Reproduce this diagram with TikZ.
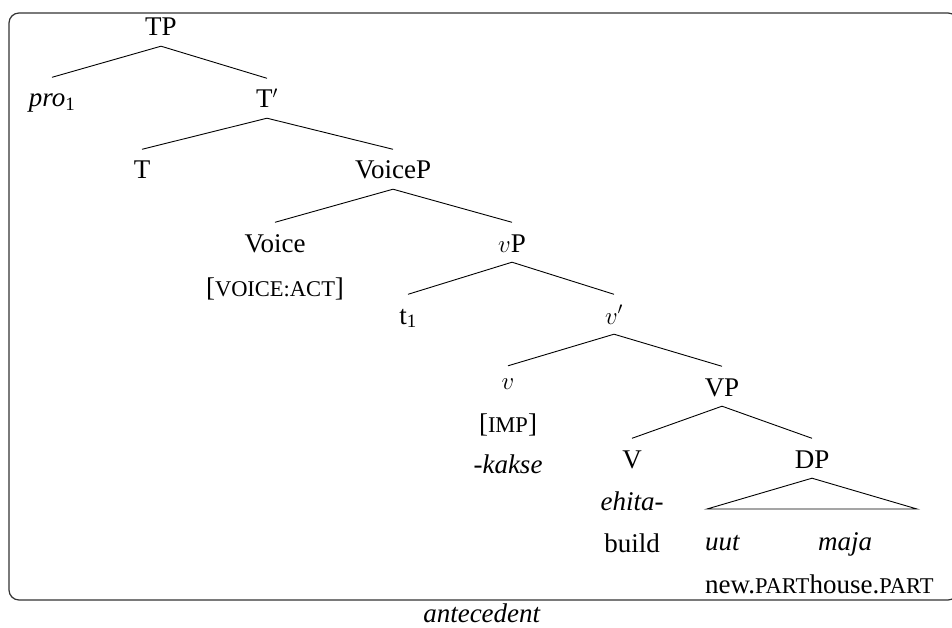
\documentclass[tikz,border=0pt]{standalone}
\usepackage{fontspec}
\setmainfont{Liberation Serif}
% small capitals drawn as reduced capitals
\newcommand\smcaps[1]{{\fontsize{22.5}{26}\selectfont #1}}
\begin{document}
\begin{tikzpicture}[x=1pt,y=-1pt,
  every node/.style={font=\fontsize{27}{32}\selectfont},
  tn/.style={anchor=base, inner sep=0pt, text height=29.5pt, text depth=10pt},
  lbl/.style={anchor=base, inner sep=0pt},
  br/.style={line width=0.9pt},
  frame/.style={line width=1.2pt, black!80, rounded corners=10pt}]
\useasboundingbox (0,0) rectangle (952,628);
\draw[frame] (9,13) rectangle (958,600);

% tree nodes
\node[tn] (tp) at (161,36) {TP};
\node[tn] (pro) at (52,107) {\textit{pro}\textsubscript{1}};
\node[tn] (tbar) at (267,108) {T$'$};
\node[tn] (thead) at (142,179) {T};
\node[tn] (voicep) at (393,179) {VoiceP};
\node[tn] (voice) at (275,252) {Voice};
\node[lbl] (voicefeat) at (275,296) {[\smcaps{VOICE:ACT}]};
\node[tn] (littlevp) at (512,252) {$v$P};
\node[tn] (trace) at (408,324) {t\textsubscript{1}};
\node[tn] (vbar) at (614,324) {$v'$};
\node[tn, text height=23pt] (vhead) at (508,389) {$v$};
\node[lbl] (imp) at (508,432) {[\smcaps{IMP}]};
\node[lbl] (kakse) at (508,473) {\textit{-kakse}};
\node[tn] (bigvp) at (722,396) {VP};
\node[tn] (verb) at (632,468) {V};
\node[lbl] (ehita) at (632,510) {\textit{ehita-}};
\node[lbl] (build) at (632,552) {build};
\node[tn] (dp) at (812,468) {DP};
\coordinate (roofl) at (707,509);
\coordinate (roofr) at (917,509);
\node[lbl, anchor=base west] (uut) at (705,550) {\textit{uut}};
\node[lbl, anchor=base west] (maja) at (818,550) {\textit{maja}};
\node[lbl, anchor=base west] (glnew) at (705,593) {new.\smcaps{PART}};
\node[lbl, anchor=base west] (glhouse) at (glnew.base east) {house.\smcaps{PART}};
\node[lbl] (caption) at (482,622) {\textit{antecedent}};

% branches
\draw[br] (tp.south) -- (pro.north);
\draw[br] (tp.south) -- (tbar.north);
\draw[br] (tbar.south) -- (thead.north);
\draw[br] (tbar.south) -- (voicep.north);
\draw[br] (voicep.south) -- (voice.north);
\draw[br] (voicep.south) -- (littlevp.north);
\draw[br] (littlevp.south) -- (trace.north);
\draw[br] (littlevp.south) -- (vbar.north);
\draw[br] (vbar.south) -- (vhead.north);
\draw[br] (vbar.south) -- (bigvp.north);
\draw[br] (bigvp.south) -- (verb.north);
\draw[br] (bigvp.south) -- (dp.north);
\draw[br] (dp.south) -- (roofl) -- (roofr) -- cycle;
\end{tikzpicture}
\end{document}
